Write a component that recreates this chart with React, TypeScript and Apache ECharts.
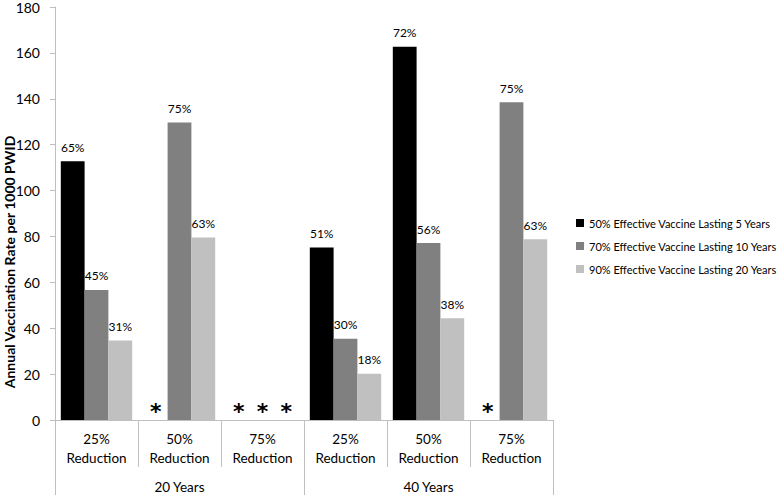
import React, { useEffect, useRef } from "react";
import * as echarts from "echarts";

const categories = [
  "25%\nReduction",
  "50%\nReduction",
  "75%\nReduction",
  "25%\nReduction",
  "50%\nReduction",
  "75%\nReduction",
];
const horizons = ["20 Years", "40 Years"];
const seriesNames = [
  "50% Effective Vaccine Lasting 5 Years",
  "70% Effective Vaccine Lasting 10 Years",
  "90% Effective Vaccine Lasting 20 Years",
];
const yTitle = "Annual Vaccination Rate per 1000 PWID";
const vaccine5 = [112.8, null, null, 75.2, 162.7, null];
const vaccine10 = [56.7, 129.7, null, 35.4, 77.1, 138.5];
const vaccine20 = [34.7, 79.5, null, 20.2, 44.4, 78.8];
const pct5 = ["65%", "", "", "51%", "72%", ""];
const pct10 = ["45%", "75%", "", "30%", "56%", "75%"];
const pct20 = ["31%", "63%", "", "18%", "38%", "63%"];
const colors = ["#000000", "#808080", "#c0c0c0"];

const FONT = "Lato";

function buildData(values: (number | null)[], labels: string[]) {
  return values.map((v, i) =>
    v === null
      ? {
          value: 0,
          label: {
            formatter: "*",
            fontSize: 22,
            fontWeight: "bold",
            fontFamily: "DejaVu Sans",
            distance: -2,
          },
        }
      : { value: v, label: { formatter: labels[i] } }
  );
}

export default function App() {
  const ref = useRef<HTMLDivElement>(null);
  useEffect(() => {
    if (!ref.current) return;
    document.body.style.margin = "0";
    const chart = echarts.init(ref.current, undefined, { renderer: "svg" });
    const valueSets = [vaccine5, vaccine10, vaccine20];
    const labelSets = [pct5, pct10, pct20];
    chart.setOption({
      animation: false,
      textStyle: { fontFamily: FONT },
      grid: [
        { left: 55, right: 229, top: 6, bottom: 75 },
        { left: 55, right: 229, top: 420, bottom: 75 },
      ],
      graphic: [
        {
          type: "text",
          x: 9,
          y: 262,
          rotation: Math.PI / 2,
          style: {
            text: yTitle,
            fontFamily: FONT,
            fontSize: 14,
            fontWeight: "bold",
            fill: "#000",
            align: "center",
            verticalAlign: "middle",
          },
        },
      ],
      legend: {
        orient: "vertical",
        left: 571,
        top: 211,
        itemWidth: 8,
        itemHeight: 8,
        itemGap: 9,
        icon: "rect",
        textStyle: { fontFamily: FONT, fontSize: 11, color: "#000", lineHeight: 14 },
        data: seriesNames,
      },
      xAxis: [
        {
          type: "category",
          gridIndex: 0,
          data: categories,
          axisLine: { show: true, lineStyle: { color: "#bfbfbf", width: 1 } },
          axisTick: {
            show: true,
            interval: 0,
            length: 47,
            lineStyle: { color: "#bfbfbf" },
          },
          axisLabel: {
            interval: 0,
            fontSize: 13.5,
            lineHeight: 19,
            margin: 9,
            color: "#000",
            fontFamily: FONT,
          },
        },
        {
          type: "category",
          gridIndex: 1,
          data: horizons,
          axisLine: { show: false },
          axisTick: {
            show: true,
            interval: 0,
            length: 75,
            lineStyle: { color: "#bfbfbf" },
          },
          axisLabel: {
            interval: 0,
            fontSize: 13.5,
            margin: 60,
            color: "#000",
            fontFamily: FONT,
          },
        },
      ],
      yAxis: [
        {
          type: "value",
          gridIndex: 0,
          min: 0,
          max: 180,
          interval: 20,
          axisLine: { show: true, lineStyle: { color: "#bfbfbf" } },
          axisTick: { show: true, length: 5, lineStyle: { color: "#bfbfbf" } },
          splitLine: { show: false },
          axisLabel: { fontSize: 14, margin: 15, color: "#000", fontFamily: FONT },
        },
        { type: "value", gridIndex: 1, show: false },
      ],
      series: seriesNames.map((name, k) => ({
        name,
        type: "bar",
        xAxisIndex: 0,
        yAxisIndex: 0,
        barGap: "0%",
        barCategoryGap: "14%",
        itemStyle: { color: colors[k] },
        label: {
          show: true,
          position: "top",
          distance: 8,
          fontSize: 12,
          color: "#000",
          fontFamily: FONT,
        },
        data: buildData(valueSets[k], labelSets[k]),
      })),
    });
    return () => chart.dispose();
  }, []);
  return <div ref={ref} style={{ width: 782, height: 495 }} />;
}
